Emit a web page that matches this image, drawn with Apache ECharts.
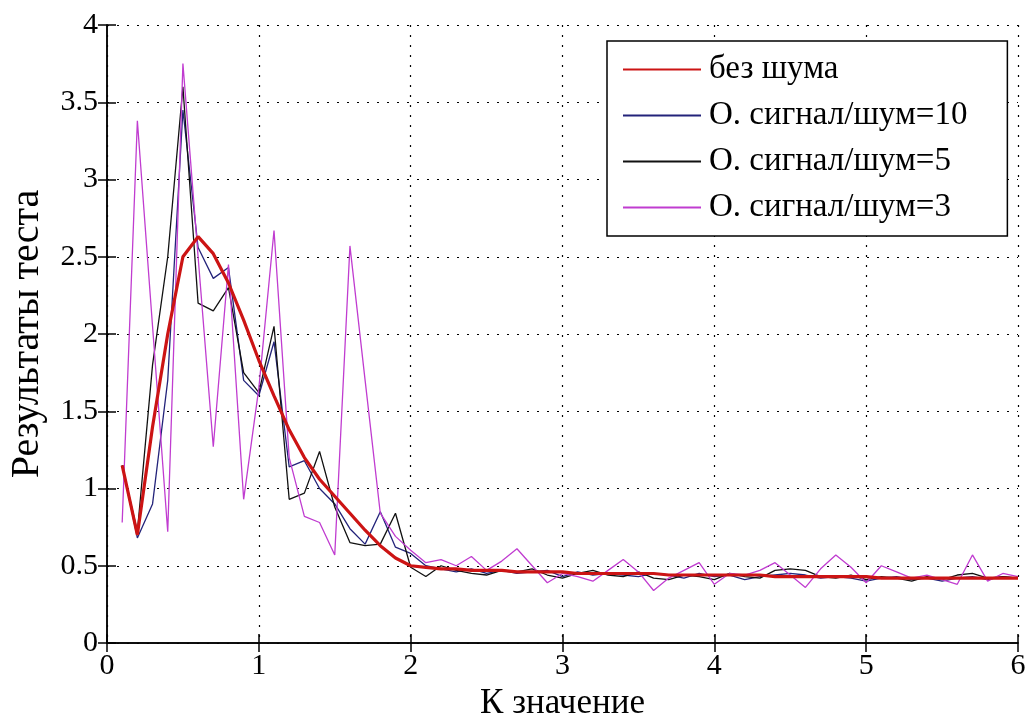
<!DOCTYPE html>
<html>
<head>
<meta charset="utf-8">
<script src="https://cdn.jsdelivr.net/npm/echarts@6/dist/echarts.min.js"></script>
<style>
html,body{margin:0;padding:0;background:#fff;}
#chart{width:1029px;height:722px;}
</style>
</head>
<body>
<div id="chart"></div>
<script>
const xValues = [0.1,0.2,0.3,0.4,0.5,0.6,0.7,0.8,0.9,1.0,
  1.1,1.2,1.3,1.4,1.5,1.6,1.7,1.8,1.9,2.0,
  2.1,2.2,2.3,2.4,2.5,2.6,2.7,2.8,2.9,3.0,
  3.1,3.2,3.3,3.4,3.5,3.6,3.7,3.8,3.9,4.0,
  4.1,4.2,4.3,4.4,4.5,4.6,4.7,4.8,4.9,5.0,
  5.1,5.2,5.3,5.4,5.5,5.6,5.7,5.8,5.9,6.0];

const seriesNames = ['без шума', 'О. сигнал/шум=10', 'О. сигнал/шум=5', 'О. сигнал/шум=3'];

const noNoise = [1.15,0.70,1.40,2.00,2.50,2.63,2.52,2.33,2.09,1.83,
  1.60,1.38,1.20,1.06,0.95,0.84,0.73,0.63,0.55,0.50,
  0.49,0.48,0.48,0.47,0.47,0.47,0.46,0.46,0.46,0.46,
  0.45,0.45,0.45,0.45,0.45,0.45,0.44,0.44,0.44,0.44,
  0.44,0.44,0.44,0.43,0.43,0.43,0.43,0.43,0.43,0.43,
  0.42,0.42,0.42,0.42,0.42,0.42,0.42,0.42,0.42,0.42];

const snr10 = [1.15,0.68,0.90,1.70,3.45,2.56,2.36,2.43,1.70,1.60,
  1.95,1.14,1.18,1.00,0.90,0.74,0.64,0.85,0.62,0.58,
  0.50,0.48,0.46,0.48,0.45,0.47,0.45,0.46,0.47,0.43,
  0.46,0.44,0.45,0.44,0.43,0.45,0.44,0.42,0.45,0.43,
  0.44,0.41,0.43,0.44,0.45,0.44,0.42,0.43,0.42,0.40,
  0.42,0.43,0.41,0.42,0.40,0.42,0.43,0.41,0.43,0.42];

const snr5 = [1.15,0.72,1.80,2.50,3.60,2.20,2.15,2.30,1.75,1.62,
  2.05,0.93,0.97,1.24,0.88,0.65,0.63,0.64,0.84,0.49,
  0.43,0.50,0.47,0.45,0.44,0.47,0.46,0.48,0.44,0.42,
  0.45,0.47,0.44,0.43,0.46,0.42,0.41,0.44,0.43,0.41,
  0.45,0.43,0.42,0.47,0.48,0.47,0.43,0.42,0.44,0.41,
  0.43,0.42,0.40,0.43,0.41,0.44,0.45,0.42,0.43,0.42];

const snr3 = [0.78,3.38,2.05,0.72,3.75,2.50,1.27,2.45,0.93,1.65,
  2.67,1.20,0.82,0.78,0.57,2.57,1.70,0.84,0.69,0.60,
  0.52,0.54,0.50,0.56,0.47,0.53,0.61,0.50,0.39,0.45,
  0.43,0.40,0.47,0.54,0.46,0.34,0.42,0.47,0.52,0.38,
  0.45,0.44,0.47,0.52,0.44,0.36,0.48,0.57,0.49,0.39,
  0.50,0.46,0.42,0.44,0.41,0.38,0.57,0.40,0.45,0.43];

const xTicks = [0,1,2,3,4,5,6];
const yTicks = [0,0.5,1,1.5,2,2.5,3,3.5,4];

function pairs(arr){ return xValues.map((x,i)=>[x,arr[i]]); }

const font = 'Liberation Serif';
const chart = echarts.init(document.getElementById('chart'), null, {renderer:'canvas'});

const axisLine = {show:true, lineStyle:{color:'#000', width:1.5}};
const tick = {show:true, inside:true, length:9, lineStyle:{color:'#000', width:1.5}};
const grid = {show:true, lineStyle:{color:'#000', width:1.2, type:[2,8]}};

chart.setOption({
  animation:false,
  backgroundColor:'#fff',
  grid:{left:107, right:11, top:25, bottom:79, containLabel:false, outerBoundsMode:'none'},
  xAxis:[{
    type:'value', min:0, max:6, interval:1, position:'bottom',
    axisLine:axisLine, axisTick:tick, splitLine:grid,
    axisLabel:{color:'#000', fontFamily:font, fontSize:30, margin:8,
      formatter:v=>xTicks.includes(v)?String(v):''},
    name:'К значение', nameLocation:'middle', nameGap:40,
    nameTextStyle:{color:'#000', fontFamily:font, fontSize:35}
  },{
    type:'value', min:0, max:6, interval:1, position:'top',
    axisLine:axisLine, axisTick:tick, splitLine:{show:false}, axisLabel:{show:false}
  }],
  yAxis:[{
    type:'value', min:0, max:4, interval:0.5, position:'left',
    axisLine:axisLine, axisTick:tick, splitLine:grid,
    axisLabel:{color:'#000', fontFamily:font, fontSize:30, margin:9,
      formatter:v=>yTicks.includes(v)?String(v):''},
    name:'Результаты теста', nameLocation:'middle', nameGap:60,
    nameTextStyle:{color:'#000', fontFamily:font, fontSize:40}
  },{
    type:'value', min:0, max:4, interval:0.5, position:'right',
    axisLine:axisLine, axisTick:tick, splitLine:{show:false}, axisLabel:{show:false}
  }],
  legend:{
    show:true, orient:'vertical', left:607, top:41,
    backgroundColor:'#fff', borderColor:'#000', borderWidth:1.5,
    padding:[12,40,12,15], itemGap:13, itemWidth:78, itemHeight:1,
    textStyle:{color:'#000', fontFamily:font, fontSize:33, padding:[0,0,0,3]},
    data:seriesNames
  },
  series:[
    {name:seriesNames[0], type:'line', data:pairs(noNoise), symbol:'none', z:5,
      lineStyle:{color:'#cc1414', width:3.2}, itemStyle:{color:'#cc1414'}},
    {name:seriesNames[1], type:'line', data:pairs(snr10), symbol:'none', z:3,
      lineStyle:{color:'#23237a', width:1.3}, itemStyle:{color:'#23237a'}},
    {name:seriesNames[2], type:'line', data:pairs(snr5), symbol:'none', z:3,
      lineStyle:{color:'#111111', width:1.3}, itemStyle:{color:'#111111'}},
    {name:seriesNames[3], type:'line', data:pairs(snr3), symbol:'none', z:4,
      lineStyle:{color:'#c03cd0', width:1.3}, itemStyle:{color:'#c03cd0'}}
  ]
});
</script>
</body>
</html>
